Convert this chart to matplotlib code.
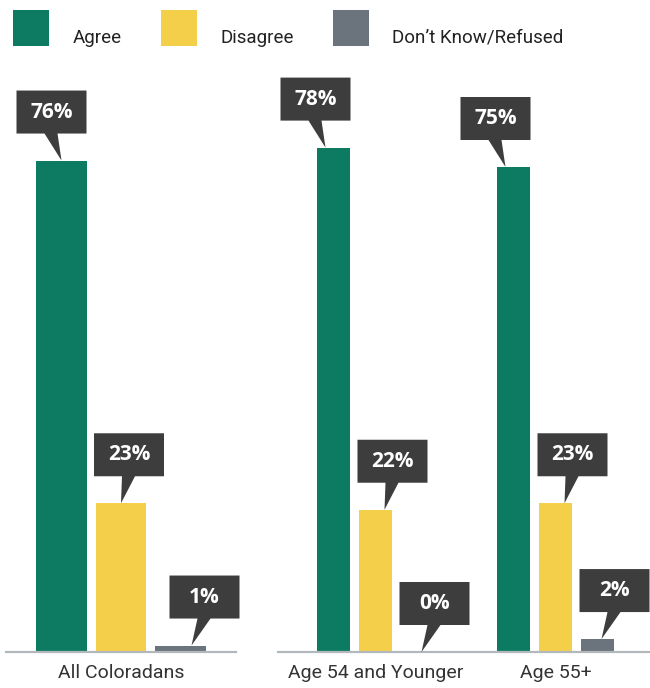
import matplotlib
matplotlib.use("Agg")
import matplotlib.pyplot as plt
from matplotlib.patches import Polygon, Rectangle
from matplotlib.transforms import ScaledTranslation

groups = ["All Coloradans", "Age 54 and Younger", "Age 55+"]
responses = ["Agree", "Disagree", "Don\u2019t Know/Refused"]
agree = [76, 78, 75]
disagree = [23, 22, 23]
dont_know = [1, 0, 2]

colors = ["#0d7a62", "#f4cf4a", "#6b737c"]
callout_color = "#3d3d3d"
base_color = "#b3b8bd"

W, H = 650, 688
DPI = 100
fig = plt.figure(figsize=(W / DPI, H / DPI), dpi=DPI)

def px_axes(x0, y_top, w, h):
    # axes rect given in pixel coords measured from the top-left corner
    return fig.add_axes([x0 / W, 1 - (y_top + h) / H, w / W, h / H])

ax_all = px_axes(6, 70, 230, 582)
ax_age = px_axes(278, 70, 372, 582)

series = [agree, disagree, dont_know]

# left panel: one group, wide bars (pitch 59.5 px)
left_pos = [-1, 0, 1]
# right panel: two groups, narrow bars (pitch 42 px)
right_centers = [0, 180 / 42]

# tip offsets (px) of the callout pointer relative to bar center, per series
tip_dx_left = [0, 0, 11]
tip_dx_right = [-8, 9, 4]
box_dx = [-10, 8, 13]


def callout(ax, x, v, tip_dx, bdx):
    trans = fig.dpi_scale_trans + ScaledTranslation(x, v, ax.transData)
    s = 1 / DPI
    tx = tip_dx
    cx = tip_dx + bdx
    bw, bh, gap = 70, 43, 27
    verts = [
        (cx - bw / 2, gap), (cx - 7, gap), (tx, 0), (cx + 6, gap),
        (cx + bw / 2, gap), (cx + bw / 2, gap + bh), (cx - bw / 2, gap + bh),
    ]
    verts = [(a * s, b * s) for a, b in verts]
    ax.add_patch(Polygon(verts, closed=True, transform=trans, facecolor=callout_color,
                         edgecolor="none", clip_on=False, zorder=5))
    ax.text(cx * s, (gap + bh / 2) * s, f"{v}%", transform=trans, ha="center", va="center",
            color="white", fontsize=15, fontweight="bold", family=["Open Sans", "DejaVu Sans"],
            zorder=6, clip_on=False)


for i, vals in enumerate(series):
    ax_all.bar(left_pos[i], vals[0], width=0.857, color=colors[i], zorder=2)
    callout(ax_all, left_pos[i], vals[0], tip_dx_left[i], box_dx[i])
    for g, c in enumerate(right_centers):
        x = c + i - 1
        ax_age.bar(x, vals[g + 1], width=0.786, color=colors[i], zorder=2)
        callout(ax_age, x, vals[g + 1], tip_dx_right[i], box_dx[i])

ax_all.set_xlim(-115 / 59.5, 115 / 59.5)
ax_age.set_xlim(-97.5 / 42, 274.5 / 42)

for ax in (ax_all, ax_age):
    ax.set_ylim(0, 90)
    ax.set_yticks([])
    for side in ("left", "right", "top"):
        ax.spines[side].set_visible(False)
    ax.spines["bottom"].set_color(base_color)
    ax.spines["bottom"].set_linewidth(1.6)
    ax.tick_params(axis="x", length=0, pad=9, labelsize=14, labelcolor="#333333")
    ax.set_facecolor("none")

ax_all.set_xticks([0])
ax_all.set_xticklabels(groups[:1], family="Roboto")
ax_age.set_xticks(right_centers)
ax_age.set_xticklabels(groups[1:], family="Roboto")

# legend across the top
legend_x = [13, 161, 333]
text_x = [73, 220, 392]
for i, name in enumerate(responses):
    fig.add_artist(Rectangle((legend_x[i] / W, 1 - 46 / H), 36 / W, 36 / H,
                             transform=fig.transFigure, facecolor=colors[i], edgecolor="none"))
    fig.text(text_x[i] / W, 1 - 43 / H, name, ha="left", va="baseline", fontsize=13.5,
             color="#222222", family="Roboto")

fig.savefig("out.png", dpi=DPI)
